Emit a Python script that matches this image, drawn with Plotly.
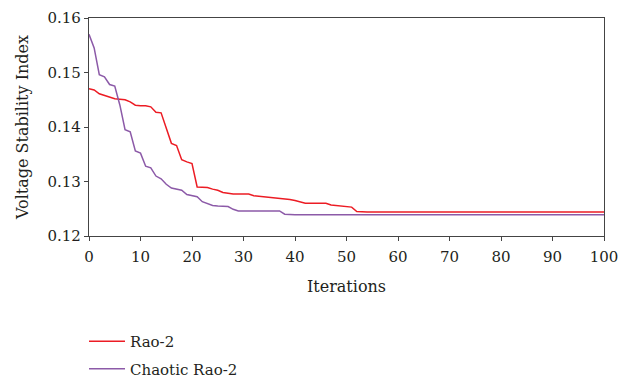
import plotly.graph_objects as go

iterations = list(range(0, 101))

rao2 = [
    0.1470, 0.1468, 0.1461, 0.1458, 0.1455, 0.1452, 0.1451, 0.1450, 0.1446, 0.1440,
    0.1439, 0.1439, 0.1437, 0.1427, 0.1426, 0.1400, 0.1370, 0.1366, 0.1340, 0.1336,
    0.1333, 0.1290, 0.1290, 0.1289, 0.1286, 0.1284, 0.1280, 0.1278, 0.1277, 0.1277,
    0.1277, 0.1277, 0.1274, 0.1273, 0.1272, 0.1272, 0.1271, 0.1270, 0.1269, 0.1267,
    0.1265, 0.1263, 0.1260, 0.1260, 0.1260, 0.1260, 0.1260, 0.1257, 0.1256, 0.1254,
    0.1253, 0.1253, 0.1245, 0.1244, 0.1244, 0.1244, 0.1244, 0.1244, 0.1244, 0.1244,
    0.1244, 0.1244, 0.1244, 0.1244, 0.1244, 0.1244, 0.1244, 0.1244, 0.1244, 0.1244,
    0.1244, 0.1244, 0.1244, 0.1244, 0.1244, 0.1244, 0.1244, 0.1244, 0.1244, 0.1244,
    0.1244, 0.1244, 0.1244, 0.1244, 0.1244, 0.1244, 0.1244, 0.1244, 0.1244, 0.1244,
    0.1244, 0.1244, 0.1244, 0.1244, 0.1244, 0.1244, 0.1244, 0.1244, 0.1244, 0.1244,
    0.1244,
]

chaotic_rao2 = [
    0.1570, 0.1545, 0.1496, 0.1492, 0.1478, 0.1475, 0.1440, 0.1395, 0.1391, 0.1356,
    0.1352, 0.1328, 0.1325, 0.1310, 0.1305, 0.1295, 0.1288, 0.1286, 0.1284, 0.1276,
    0.1274, 0.1272, 0.1263, 0.1259, 0.1256, 0.1255, 0.1254, 0.1254, 0.1249, 0.1246,
    0.1246, 0.1246, 0.1246, 0.1246, 0.1246, 0.1246, 0.1246, 0.1246, 0.1240, 0.1239,
    0.1239, 0.1239, 0.1239, 0.1239, 0.1239, 0.1239, 0.1239, 0.1239, 0.1239, 0.1239,
    0.1239, 0.1239, 0.1239, 0.1239, 0.1239, 0.1239, 0.1239, 0.1239, 0.1239, 0.1239,
    0.1239, 0.1239, 0.1239, 0.1239, 0.1239, 0.1239, 0.1239, 0.1239, 0.1239, 0.1239,
    0.1239, 0.1239, 0.1239, 0.1239, 0.1239, 0.1239, 0.1239, 0.1239, 0.1239, 0.1239,
    0.1239, 0.1239, 0.1239, 0.1239, 0.1239, 0.1239, 0.1239, 0.1239, 0.1239, 0.1239,
    0.1239, 0.1239, 0.1239, 0.1239, 0.1239, 0.1239, 0.1239, 0.1239, 0.1239, 0.1239,
    0.1239,
]

x_ticks = [0, 10, 20, 30, 40, 50, 60, 70, 80, 90, 100]
y_ticks = [0.12, 0.13, 0.14, 0.15, 0.16]
y_tick_labels = ["0.12", "0.13", "0.14", "0.15", "0.16"]

FONT = "DejaVu Serif"
FS = 15
TXT = "#231f20"

fig = go.Figure()
fig.add_trace(go.Scatter(x=iterations, y=rao2, mode="lines", name="Rao-2",
                         legendgroup="a",
                         line=dict(color="#ec1c24", width=1.5)))
fig.add_trace(go.Scatter(x=iterations, y=chaotic_rao2, mode="lines", name="Chaotic Rao-2",
                         legendgroup="b",
                         line=dict(color="#8c5aa8", width=1.5)))

axis_common = dict(showgrid=False, zeroline=False, showline=True, linecolor="#444444",
                   linewidth=1.2, mirror=True, ticks="outside", ticklen=4,
                   tickcolor="#444444", tickwidth=1.2,
                   tickfont=dict(family=FONT, size=FS, color=TXT))

fig.update_layout(
    width=621, height=379,
    margin=dict(l=89, r=17, t=18, b=143, autoexpand=False),
    paper_bgcolor="white", plot_bgcolor="white",
    font=dict(family=FONT, size=FS, color=TXT),
    showlegend=True,
    legend=dict(x=-5 / 515, y=-0.683, xanchor="left", yanchor="bottom",
                tracegroupgap=5, itemwidth=36,
                font=dict(family=FONT, size=FS, color=TXT),
                bgcolor="rgba(0,0,0,0)"),
    xaxis=dict(range=[0, 100], tickvals=x_ticks, ticklabelstandoff=3,
               title=dict(text="Iterations", font=dict(family=FONT, size=16, color=TXT), standoff=15),
               **axis_common),
    yaxis=dict(range=[0.12, 0.16], tickvals=y_ticks, ticktext=y_tick_labels,
               title=dict(text="Voltage Stability Index", font=dict(family=FONT, size=16, color=TXT), standoff=14),
               **axis_common),
)

fig.write_html("out.html")
